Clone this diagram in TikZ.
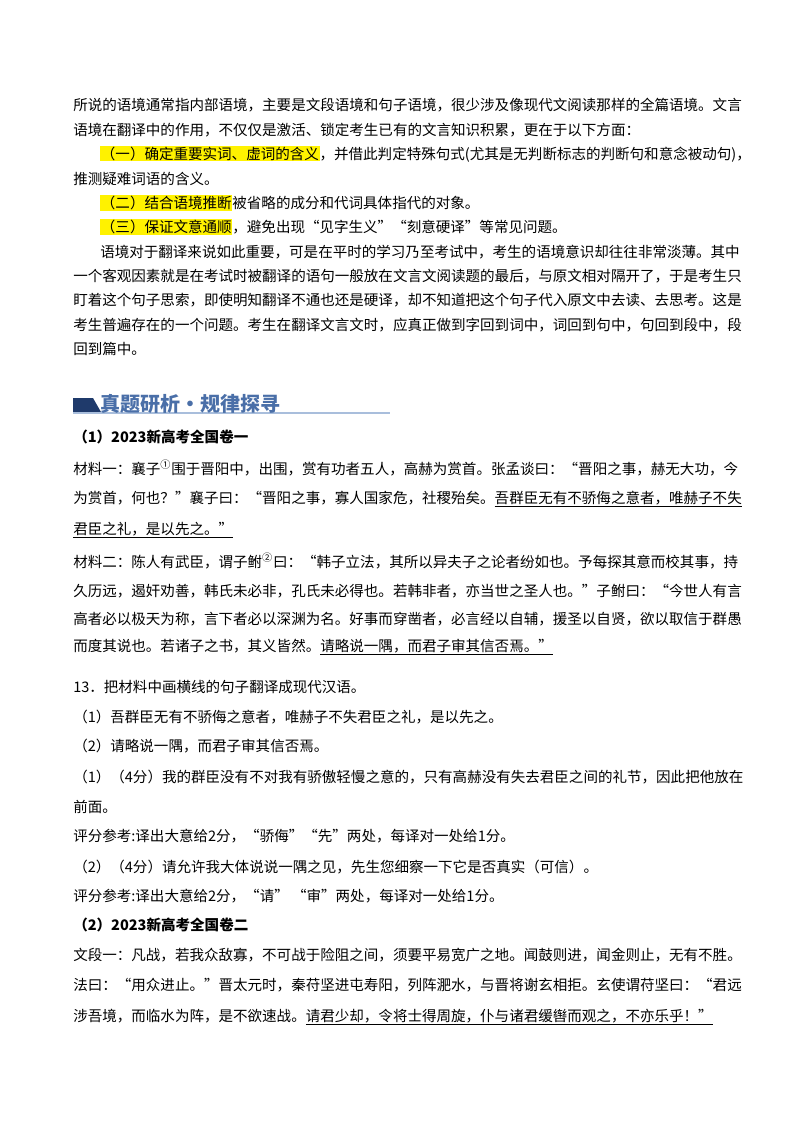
\documentclass[tikz,border=0pt]{standalone}
\usepackage{fontspec}
\setmainfont{Noto Sans CJK SC}
\usetikzlibrary{calc}
\XeTeXinterchartokenstate=1
\XeTeXinterchartoks 1 1 = {\hskip0pt plus 1pt}
\XeTeXinterchartoks 1 2 = {\hskip0pt plus 1pt}
\XeTeXinterchartoks 1 3 = {\hskip0pt plus 1pt}
\XeTeXinterchartoks 2 1 = {\hskip0pt plus 1pt}
\XeTeXinterchartoks 3 1 = {\hskip0pt plus 1pt}
\XeTeXinterchartoks 3 2 = {\hskip0pt plus 1pt}
\XeTeXinterchartoks 0 1 = {\hskip0pt plus 1pt}
\XeTeXinterchartoks 1 0 = {\hskip0pt plus 1pt}
\XeTeXinterchartoks 3 0 = {\hskip0pt plus 1pt}
\XeTeXinterchartoks 0 3 = {\hskip0pt plus 1pt}
\definecolor{hdrnavy}{HTML}{1F3A6B}
\definecolor{hdrblue}{HTML}{4A6FA8}
\definecolor{hdrline}{HTML}{A9BEDC}
\newcommand\hlt[1]{{\setlength{\fboxsep}{0.5pt}\colorbox{yellow}{#1}}}
\newcommand\ul[1]{\underline{#1}}
% justified line: name, x(px), y(px), width(pt), text
\newcommand\Jline[5]{\node[txt] (#1) at (#2,#3) {\makebox[#4][s]{#5}};}
\newcommand\Nline[4]{\node[txt] (#1) at (#2,#3) {#4};}
\tikzset{txt/.style={anchor=west,inner sep=0pt,font=\fontsize{10.9}{13}\selectfont,text=black}}
\begin{document}
\begin{tikzpicture}[x=0.75pt,y=-0.75pt]
\fill[white] (0,0) rectangle (800,1132);
\useasboundingbox (0,0) rectangle (800,1132);
\Jline{l1}{73}{105}{490.5pt}{所说的语境通常指内部语境，主要是文段语境和句子语境，很少涉及像现代文阅读那样的全篇语境。文言}
\Nline{l2}{73}{130}{语境在翻译中的作用，不仅仅是激活、锁定考生已有的文言知识积累，更在于以下方面：}
\Jline{l3}{100}{154}{470.25pt}{\hlt{（一）确定重要实词、虚词的含义}，并借此判定特殊句式(尤其是无判断标志的判断句和意念被动句)，}
\Nline{l4}{73}{179}{推测疑难词语的含义。}
\Nline{l5}{100}{203}{\hlt{（二）结合语境推断}被省略的成分和代词具体指代的对象。}
\Nline{l6}{100}{227}{\hlt{（三）保证文意通顺}，避免出现“见字生义”“刻意硬译”等常见问题。}
\Jline{l7}{100}{252}{470.25pt}{语境对于翻译来说如此重要，可是在平时的学习乃至考试中，考生的语境意识却往往非常淡薄。其中}
\Jline{l8}{73}{276}{490.5pt}{一个客观因素就是在考试时被翻译的语句一般放在文言文阅读题的最后，与原文相对隔开了，于是考生只}
\Jline{l9}{73}{300}{490.5pt}{盯着这个句子思索，即使明知翻译不通也还是硬译，却不知道把这个句子代入原文中去读、去思考。这是}
\Jline{l10}{73}{325}{490.5pt}{考生普遍存在的一个问题。考生在翻译文言文时，应真正做到字回到词中，词回到句中，句回到段中，段}
\Nline{l11}{73}{349}{回到篇中。}
% header
\fill[hdrnavy] (73,398) -- (93,398) -- (101,412) -- (73,412) -- cycle;
\draw[hdrline,line width=0.8pt] (73,413) -- (390,413);
\node[anchor=west,inner sep=0pt,font=\fontsize{15}{17}\selectfont\bfseries,text=hdrblue] (hdr) at (100,404) {真题研析·规律探寻};
\node[txt,font=\fontsize{10.9}{13}\selectfont\bfseries] (t1) at (73,437) {（1）2023新高考全国卷一};
\Jline{m1}{73}{468}{490.5pt}{材料一：襄子\textsuperscript{①}围于晋阳中，出围，赏有功者五人，高赫为赏首。张孟谈曰：“晋阳之事，赫无大功，今}
\Jline{m2}{73}{499}{490.5pt}{为赏首，何也？”襄子曰：“晋阳之事，寡人国家危，社稷殆矣。\ul{吾群臣无有不骄侮之意者，唯赫子不失}}
\Nline{m3}{73}{530}{\ul{君臣之礼，是以先之。”}}
\Jline{m4}{73}{561}{490.5pt}{材料二：陈人有武臣，谓子鲋\textsuperscript{②}曰：“韩子立法，其所以异夫子之论者纷如也。予每探其意而校其事，持}
\Jline{m5}{73}{591}{490.5pt}{久历远，遏奸劝善，韩氏未必非，孔氏未必得也。若韩非者，亦当世之圣人也。”子鲋曰：“今世人有言}
\Jline{m6}{73}{619}{490.5pt}{高者必以极天为称，言下者必以深渊为名。好事而穿凿者，必言经以自辅，援圣以自贤，欲以取信于群愚}
\Nline{m7}{73}{647}{而度其说也。若诸子之书，其义皆然。\ul{请略说一隅，而君子审其信否焉。”}}
\Nline{q0}{73}{687}{13．把材料中画横线的句子翻译成现代汉语。}
\Nline{q1}{73}{717}{（1）吾群臣无有不骄侮之意者，唯赫子不失君臣之礼，是以先之。}
\Nline{q2}{73}{746}{（2）请略说一隅，而君子审其信否焉。}
\Jline{a1}{73}{777}{490.5pt}{（1）（4分）我的群臣没有不对我有骄傲轻慢之意的，只有高赫没有失去君臣之间的礼节，因此把他放在}
\Nline{a2}{73}{807}{前面。}
\Nline{a3}{73}{836}{评分参考:译出大意给2分，“骄侮”“先”两处，每译对一处给1分。}
\Nline{a4}{73}{867}{（2）（4分）请允许我大体说说一隅之见，先生您细察一下它是否真实（可信）。}
\Nline{a5}{73}{896}{评分参考:译出大意给2分，“请”\ “审”两处，每译对一处给1分。}
\node[txt,font=\fontsize{10.9}{13}\selectfont\bfseries] (t2) at (73,925) {（2）2023新高考全国卷二};
\Jline{w1}{73}{955}{490.5pt}{文段一：凡战，若我众敌寡，不可战于险阻之间，须要平易宽广之地。闻鼓则进，闻金则止，无有不胜。}
\Jline{w2}{73}{985}{490.5pt}{法曰：“用众进止。”晋太元时，秦苻坚进屯寿阳，列阵淝水，与晋将谢玄相拒。玄使谓苻坚曰：“君远}
\Nline{w3}{73}{1017}{涉吾境，而临水为阵，是不欲速战。\ul{请君少却，令将士得周旋，仆与诸君缓辔而观之，不亦乐乎！”}}
\end{tikzpicture}
\end{document}
